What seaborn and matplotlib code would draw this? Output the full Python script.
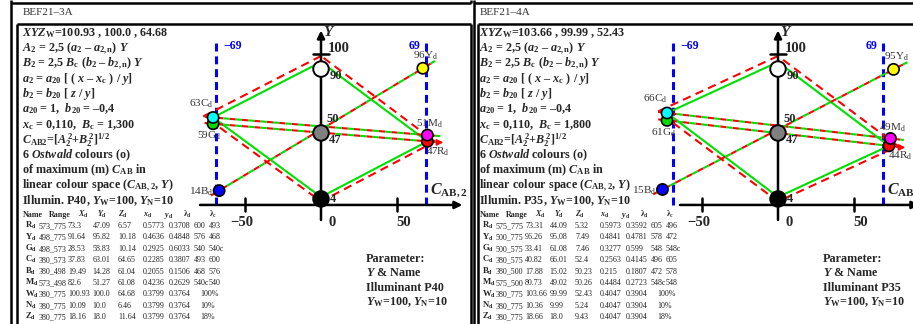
import numpy as np
import pandas as pd
import matplotlib
matplotlib.use('Agg')
import matplotlib.pyplot as plt
import seaborn as sns

# Seis cores Ostwald (ordem da tabela)
names = ['R', 'Y', 'G', 'C', 'B', 'M']
point_colors = ['#ff0000', '#ffff00', '#00dd00', '#00ffff', '#0000ff', '#ff00ff']
rows = ['R', 'Y', 'G', 'C', 'B', 'M', 'W', 'N', 'Z']

# BEF21-3A, Illuminant P40
range_3a = ['573_775', '498_775', '498_573', '380_573', '380_498', '573_498', '380_775', '380_775', '380_775']
X_3a = [73.3, 91.64, 28.53, 37.83, 19.49, 82.6, 100.93, 10.09, 18.16]
Y_3a = [47.09, 95.82, 58.83, 63.01, 14.28, 51.27, 100.0, 10.0, 18.0]
Z_3a = [6.57, 10.18, 10.14, 64.65, 61.04, 61.08, 64.68, 6.46, 11.64]
xd_3a = [0.5773, 0.4636, 0.2925, 0.2285, 0.2055, 0.4236, 0.3799, 0.3799, 0.3799]
yd_3a = [0.3708, 0.4848, 0.6033, 0.3807, 0.1506, 0.2629, 0.3764, 0.3764, 0.3764]
lamd_3a = ['600', '576', '540', '493', '468', '540c', '100%', '10%', '18%']
lamc_3a = ['493', '468', '540c', '600', '576', '540', '', '', '']
cab_3a = [70, 67, -71, -71, -67, 70]
red_cab_3a = [0, -77, 0, 75, 0]
red_y_3a = [104, 64, 7, 47, 104]

# BEF21-4A, Illuminant P35
range_4a = ['575_775', '500_775', '500_575', '380_575', '380_500', '575_500', '380_775', '380_775', '380_775']
X_4a = [73.31, 96.26, 33.41, 40.82, 17.88, 80.73, 103.66, 10.36, 18.66]
Y_4a = [44.09, 95.08, 61.08, 66.01, 15.02, 49.02, 99.99, 9.99, 18.0]
Z_4a = [5.32, 7.49, 7.46, 52.4, 50.23, 50.26, 52.43, 5.24, 9.43]
xd_4a = [0.5973, 0.4841, 0.3277, 0.2563, 0.215, 0.4484, 0.4047, 0.4047, 0.4047]
yd_4a = [0.3592, 0.4781, 0.599, 0.4145, 0.1807, 0.2723, 0.3904, 0.3904, 0.3904]
lamd_4a = ['605', '578', '548', '496', '472', '548c', '100%', '10%', '18%']
lamc_4a = ['496', '472', '548c', '605', '578', '548', '', '', '']
cab_4a = [73, 76, -73, -73, -76, 74]
red_cab_4a = [0, -79, 0, 79, 0]
red_y_4a = [104, 67, 7, 44, 104]

# pontos acromaticos (W, cinza, N)
achro_y = [95.3, 52.7, 8.7]
achro_colors = ['#ffffff', '#808080', '#000000']
y_w, y_n = 100, 10

# colunas da tabela (pixels, painel esquerdo)
cols_left = [25, 39, 68, 92.5, 118, 143, 169, 194, 209]
hcols_left = [23, 49, 78, 97, 118, 143, 164, 183, 209]
DX = 457  # deslocamento do painel direito

panels = [
    dict(code='BEF21\u20133A', illum='P40', xyz='100.93 , 100.0 , 64.68', bc='1,300',
         rng=range_3a, X=X_3a, Y=Y_3a, Z=Z_3a, xd=xd_3a, yd=yd_3a, ld=lamd_3a, lc=lamc_3a,
         cab=cab_3a, red_cab=red_cab_3a, red_y=red_y_3a, off=0, axis_start=-79.6),
    dict(code='BEF21\u20134A', illum='P35', xyz='103.66 , 99.99 , 52.43', bc='1,800',
         rng=range_4a, X=X_4a, Y=Y_4a, Z=Z_4a, xd=xd_4a, yd=yd_4a, ld=lamd_4a, lc=lamc_4a,
         cab=cab_4a, red_cab=red_cab_4a, red_y=red_y_4a, off=DX, axis_start=-64.5),
]

sns.set_style('white')
plt.rcParams['font.family'] = ['Liberation Serif', 'DejaVu Serif']
plt.rcParams['mathtext.fontset'] = 'custom'
plt.rcParams['mathtext.rm'] = 'Liberation Serif:bold'
plt.rcParams['mathtext.bf'] = 'Liberation Serif:bold'
plt.rcParams['mathtext.it'] = 'Liberation Serif:bold:italic'
plt.rcParams['mathtext.sf'] = 'Liberation Serif'

W, H = 913, 324
fig = plt.figure(figsize=(W / 100, H / 100), dpi=100)
over = fig.add_axes([0, 0, 1, 1])
over.set_xlim(0, W)
over.set_ylim(H, 0)
over.axis('off')

BLK = '#000000'
GREEN = '#00e000'
RED = '#ff0000'
BLUE = '#0000ff'
PXS = 1.52   # pixels por unidade C_AB
PYS = 1.5    # pixels por unidade Y
Y0_PX = 212  # pixel de Y = 0


def put(x, y, s, size=8.7, weight='bold', **kw):
    over.text(x, y, s, fontsize=size, fontweight=weight, va='baseline', **kw)


def frame(x, y, lw=1.8):
    over.plot(x, y, color=BLK, lw=lw, solid_capstyle='butt')


# molduras
frame([11, 11], [0, H])
frame([11, 471], [3, 3])
frame([471, 471], [0, 3])
frame([17, 17], [24, H])
frame([17, 471], [24, 24])
frame([471, 471], [24, H])
frame([474, 474], [0, H])
frame([474, W], [3, 3])
frame([478, 478], [24, H])
frame([478, W], [24, 24])

label_off = {'R': (-1, 10, 'left'), 'Y': (3, -13, 'center'), 'G': (-4, 12, 'center'),
             'C': (0, -14, 'right'), 'B': (-6, 1, 'right'), 'M': (2, -11, 'center')}

for p in panels:
    off = p['off']
    tx = 22 + off
    put(tx + 1, 15, p['code'], size=8, weight='normal', color='#333333')

    txt = [r'$XYZ_\mathrm{W}$=' + p['xyz'],
           r'$A_2$ = 2,5 ($a_2$ – $a_\mathrm{2,n}$) $Y$',
           r'$B_2$ = 2,5 $B_\mathrm{c}$ ($b_2$ – $b_\mathrm{2,n}$) $Y$',
           r'$a_2$ = $a_{20}$ [ ( $x$ – $x_\mathrm{c}$ ) / $y$]',
           r'$b_2$ = $b_{20}$ [ $z$ / $y$]',
           r'$a_{20}$ = 1,  $b_{20}$ = –0,4',
           r'$x_\mathrm{c}$ = 0,110,  $B_\mathrm{c}$ = ' + p['bc'],
           r'$C_\mathrm{AB2}$=[$A_2^{\,2}$+$B_2^{\,2}$]$^\mathrm{1/2}$',
           r'6 $Ostwald$ colours (o)',
           r'of maximum (m) $C_\mathrm{AB}$ in',
           r'linear colour space ($C_\mathrm{AB,2}$, $Y$)',
           'Illumin. ' + p['illum'] + r', $Y_\mathrm{W}$=100, $Y_\mathrm{N}$=10']
    for k, s in enumerate(txt):
        put(tx, 36 + 15.3 * k, s)

    # tabela
    hdr = ['Name', 'Range', r'$X_\mathrm{d}$', r'$Y_\mathrm{d}$', r'$Z_\mathrm{d}$',
           r'$x_\mathrm{d}$', r'$y_\mathrm{d}$', r'λ$_\mathrm{d}$', r'λ$_\mathrm{c}$']
    for hx, h in zip(hcols_left, hdr):
        put(hx + off, 217, h, size=5.8)
    cols = [c + off for c in cols_left]
    for r, nm in enumerate(rows):
        yb = 228 + 11.4 * r
        put(cols[0], yb, r'$\mathrm{' + nm + r'}_\mathrm{d}$', size=6.3)
        vals = [p['rng'][r], str(p['X'][r]), str(p['Y'][r]), str(p['Z'][r]),
                str(p['xd'][r]), str(p['yd'][r])]
        for cx, v in zip(cols[1:7], vals):
            put(cx, yb, v, size=5.8, weight='normal', color='#222222')
        if p['lc'][r]:
            put(cols[7], yb, p['ld'][r], size=5.8, weight='normal', color='#222222')
            put(cols[8], yb, p['lc'][r], size=5.8, weight='normal', color='#222222')
        else:
            put(200 + off, yb, p['ld'][r], size=5.8, weight='normal', color='#222222')

    # bloco de parametros
    par = ['Parameter:', r'$Y$ & Name', 'Illuminant ' + p['illum'],
           r'$Y_\mathrm{W}$=100, $Y_\mathrm{N}$=10']
    for k, s in enumerate(par):
        put(366 + off, 262 + 14.5 * k, s)

    # grafico C_AB,2 - Y
    x0 = 321 + off
    l, r_, t, b = x0 - 141, x0 + 144, 28, 232
    ax = fig.add_axes([l / W, 1 - b / H, (r_ - l) / W, (b - t) / H])
    ax.set_xlim((l - x0) / PXS, (r_ - x0) / PXS)
    ax.set_ylim((Y0_PX - b) / PYS, (Y0_PX - t) / PYS)
    ax.axis('off')
    ax.patch.set_alpha(0)

    axis_y = 4.7
    # linhas azuis +-69
    for xv in (-69, 69):
        ax.plot([xv, xv], [axis_y, 113], color=BLUE, lw=2.2, ls=(0, (2.6, 1.6)), zorder=2)
    ax.text(-64.5, 110.7, '\u221269', color=BLUE, fontsize=8.5, fontweight='bold', ha='left', va='center')
    ax.text(65.5, 110.7, '69', color=BLUE, fontsize=8.5, fontweight='bold', ha='right', va='center')

    # eixos com setas
    arr = dict(arrowstyle='-|>', color=BLK, lw=1.8, mutation_scale=11, shrinkA=0, shrinkB=0)
    ax.annotate('', xy=(93, axis_y), xytext=(p['axis_start'], axis_y), arrowprops=arr,
                annotation_clip=False, zorder=3)
    ax.annotate('', xy=(0, 121), xytext=(0, -5.3), arrowprops=arr, annotation_clip=False, zorder=3)
    for xv in (-50, 50):
        ax.plot([xv, xv], [0.7, 9.3], color=BLK, lw=1.8, zorder=3)
    ax.plot([-5.3, 5.3], [105.3, 105.3], color=BLK, lw=1.8, zorder=3)
    ax.text(4.6, 109.3, '100', fontsize=10.5, fontweight='bold', va='center', ha='left')
    ax.text(1.5, 120, '$Y$', fontsize=11, va='center', ha='left')
    for xv, s in zip((-52, 7.2, 54.6), ('\u221250', '0', '50')):
        ax.text(xv, -7.3, s, fontsize=10.5, fontweight='bold', ha='center', va='center')
    ax.text(72, 14.7, r'$C_\mathrm{AB,2}$', fontsize=11.5, ha='left', va='center', clip_on=False)

    cab = p['cab']
    yy = p['Y'][:6]
    iC, iM, iG, iR, iB, iY = (names.index(n) for n in ['C', 'M', 'G', 'R', 'B', 'Y'])

    # losango vermelho tracejado
    sns.lineplot(x=p['red_cab'], y=p['red_y'], sort=False, estimator=None, color=RED,
                 lw=1.5, ls=(0, (4, 2.6)), ax=ax, zorder=2)
    # losango verde: W - C - N - R - W
    gx = [0, cab[iC], 0, cab[iR], 0]
    gy = [y_w, yy[iC], y_n, yy[iR], y_w]
    sns.lineplot(x=gx, y=gy, sort=False, estimator=None, color=GREEN, lw=1.5, ax=ax, zorder=2)

    # linhas alternadas vermelho/verde entre cores opostas
    for a, c in ((iC, iM), (iG, iR), (iB, iY)):
        p0 = np.array([cab[a], yy[a]])
        p1 = np.array([cab[c], yy[c]])
        d = p1 - p0
        e0, e1 = p0 - 0.04 * d, p1 + 0.06 * d
        seg = pd.DataFrame({'x': [e0[0], e1[0]], 'y': [e0[1], e1[1]]})
        sns.lineplot(data=seg, x='x', y='y', sort=False, estimator=None, color=RED, lw=1.5,
                     ls=(0, (3, 3)), ax=ax, zorder=2)
        sns.lineplot(data=seg, x='x', y='y', sort=False, estimator=None, color=GREEN, lw=1.5,
                     ls=(3, (3, 3)), ax=ax, zorder=2)
        if a == iG:
            ax.annotate('', xy=(e1[0] + 2, e1[1]), xytext=(e1[0] - 2, e1[1]),
                        arrowprops=dict(arrowstyle='-|>', color=RED, lw=1.2, mutation_scale=9,
                                        shrinkA=0, shrinkB=0), annotation_clip=False, zorder=4)

    # pontos acromaticos
    sns.scatterplot(x=[0, 0, 0], y=achro_y, hue=['w', 'g', 'k'],
                    palette=dict(zip(['w', 'g', 'k'], achro_colors)), s=125,
                    edgecolor=BLK, linewidth=1.4, legend=False, ax=ax, zorder=5, clip_on=False)
    for yv, s, dx, dy in ((achro_y[0], '90', 15, 7), (achro_y[1], '50', 12, -14),
                          (achro_y[1], '47', 14, 7), (achro_y[2], '4', 12, 0)):
        ax.annotate(s, (0, yv), xytext=(dx, -dy), textcoords='offset pixels', fontsize=9,
                    fontweight='bold', ha='center', va='center')

    # seis cores
    df = pd.DataFrame({'cab': cab, 'Y': yy, 'name': names})
    sns.scatterplot(data=df, x='cab', y='Y', hue='name', hue_order=names,
                    palette=dict(zip(names, point_colors)), s=65, edgecolor=BLK, linewidth=1.2,
                    legend=False, ax=ax, zorder=6, clip_on=False)
    for n, xv, yv in zip(names, cab, yy):
        dx, dy, ha = label_off[n]
        ax.annotate(r'$\mathsf{%d%s}_\mathsf{d}$' % (round(yv), n), (xv, yv), xytext=(dx, -dy),
                    textcoords='offset pixels', fontsize=8, color='#333333', ha=ha, va='center',
                    annotation_clip=False, zorder=7)

fig.savefig('out.png', dpi=100)
